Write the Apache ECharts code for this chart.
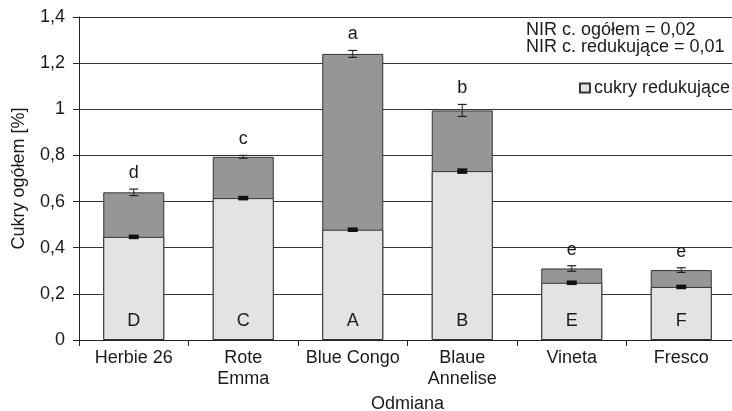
<!DOCTYPE html>
<html><head><meta charset="utf-8">
<script src="https://cdn.jsdelivr.net/npm/echarts@6/dist/echarts.min.js"></script>
<style>html,body{margin:0;padding:0;background:#fff}#c{width:732px;height:411px}</style>
</head><body><div id="c"></div>
<script>
const categories = ['Herbie 26', 'Rote\nEmma', 'Blue Congo', 'Blaue\nAnnelise', 'Vineta', 'Fresco'];
const totalSugar = [0.640, 0.794, 1.240, 0.995, 0.310, 0.303];
const totalErr = [0.014, 0.006, 0.015, 0.026, 0.012, 0.010];
const reducingSugar = [0.447, 0.615, 0.478, 0.732, 0.248, 0.230];
const reducingErr = [0.010, 0.010, 0.010, 0.012, 0.010, 0.010];
const totalLetters = ['d', 'c', 'a', 'b', 'e', 'e'];
const reducingLetters = ['D', 'C', 'A', 'B', 'E', 'F'];
const yTicks = [0, 0.2, 0.4, 0.6, 0.8, 1, 1.2, 1.4];

const FONT = 'Liberation Sans, Arial, sans-serif';
const FS = 18;
const TXT = '#1a1a1a';
const chart = echarts.init(document.getElementById('c'), null, {renderer: 'canvas'});

function errItem(vals, errs, black) {
  return function (params, api) {
    const i = api.value(0);
    const c = api.coord([i, vals[i]]);
    const hi = api.coord([i, vals[i] + errs[i]]);
    const lo = api.coord([i, vals[i] - errs[i]]);
    const w = black ? 5 : 4.5;
    if (black) {
      return {type: 'rect', shape: {x: c[0] - w, y: hi[1], width: 2 * w, height: lo[1] - hi[1]},
        style: {fill: '#111'}};
    }
    return {type: 'group', children: [
      {type: 'line', shape: {x1: c[0], y1: hi[1], x2: c[0], y2: lo[1]}, style: {stroke: '#222', lineWidth: 1}},
      {type: 'line', shape: {x1: c[0] - w, y1: hi[1], x2: c[0] + w, y2: hi[1]}, style: {stroke: '#222', lineWidth: 1.2}},
      {type: 'line', shape: {x1: c[0] - w, y1: lo[1], x2: c[0] + w, y2: lo[1]}, style: {stroke: '#222', lineWidth: 1.2}}
    ]};
  };
}

chart.setOption({
  animation: false,
  backgroundColor: '#fff',
  textStyle: {fontFamily: FONT},
  grid: {left: 79, top: 17, width: 657, bottom: 71, containLabel: false, outerBoundsMode: 'none'},
  title: {
    text: 'NIR c. ogółem = 0,02\nNIR c. redukujące = 0,01',
    left: 526, top: 22, padding: 0,
    textStyle: {fontFamily: FONT, fontSize: FS, fontWeight: 'normal', color: TXT, lineHeight: 17}
  },
  legend: {
    data: ['cukry redukujące'],
    right: 2, top: 79, padding: 0,
    itemWidth: 10, itemHeight: 9, itemGap: 4,
    icon: 'rect',
    textStyle: {fontFamily: FONT, fontSize: FS, color: TXT, padding: [0, 0, 0, -1]}
  },
  xAxis: {
    type: 'category',
    data: categories,
    name: 'Odmiana',
    nameLocation: 'middle',
    nameGap: 54,
    nameTextStyle: {fontFamily: FONT, fontSize: FS, color: TXT},
    axisLine: {lineStyle: {color: '#222', width: 1}},
    axisTick: {show: true, length: 6, lineStyle: {color: '#222'}},
    axisLabel: {fontFamily: FONT, fontSize: FS, color: TXT, margin: 8, lineHeight: 21, interval: 0, hideOverlap: false},
    splitLine: {show: false}
  },
  yAxis: {
    type: 'value',
    min: 0, max: 1.4, interval: 0.2,
    name: 'Cukry ogółem [%]',
    nameLocation: 'middle',
    nameGap: 51,
    nameRotate: 90,
    nameTextStyle: {fontFamily: FONT, fontSize: FS, color: TXT},
    axisLine: {show: true, lineStyle: {color: '#222', width: 1}},
    axisTick: {show: true, length: 6, lineStyle: {color: '#222'}},
    axisLabel: {
      fontFamily: FONT, fontSize: FS, color: TXT, margin: 14,
      formatter: v => {
        const t = yTicks.find(x => Math.abs(x - v) < 1e-6);
        return (t === undefined ? v : t).toString().replace('.', ',');
      }
    },
    splitLine: {show: true, lineStyle: {color: '#333', width: 1}}
  },
  series: [
    {
      name: 'cukry ogółem',
      type: 'bar',
      data: totalSugar,
      barWidth: 61,
      barGap: '-100%',
      itemStyle: {color: '#969696', borderColor: '#333', borderWidth: 1},
      z: 2
    },
    {
      name: 'cukry redukujące',
      type: 'bar',
      data: reducingSugar,
      barWidth: 61,
      barGap: '-100%',
      itemStyle: {color: '#e3e3e3', borderColor: '#333', borderWidth: 1},
      label: {
        show: true, position: 'insideBottom', distance: 10,
        formatter: p => reducingLetters[p.dataIndex],
        fontFamily: FONT, fontSize: FS, color: TXT
      },
      z: 3
    },
    {
      name: 'err total',
      type: 'custom',
      data: totalSugar.map((v, i) => [i, v]),
      renderItem: errItem(totalSugar, totalErr, false),
      z: 5
    },
    {
      name: 'err reducing',
      type: 'custom',
      data: reducingSugar.map((v, i) => [i, v]),
      renderItem: errItem(reducingSugar, reducingErr, true),
      z: 5
    },
    {
      name: 'letters',
      type: 'scatter',
      data: totalSugar.map((v, i) => [i, v + totalErr[i]]),
      symbolSize: 0,
      itemStyle: {opacity: 1},
      label: {
        show: true, position: 'top', distance: 7,
        formatter: p => totalLetters[p.dataIndex],
        fontFamily: FONT, fontSize: FS, color: TXT
      },
      z: 6
    }
  ]
});
</script></body></html>
